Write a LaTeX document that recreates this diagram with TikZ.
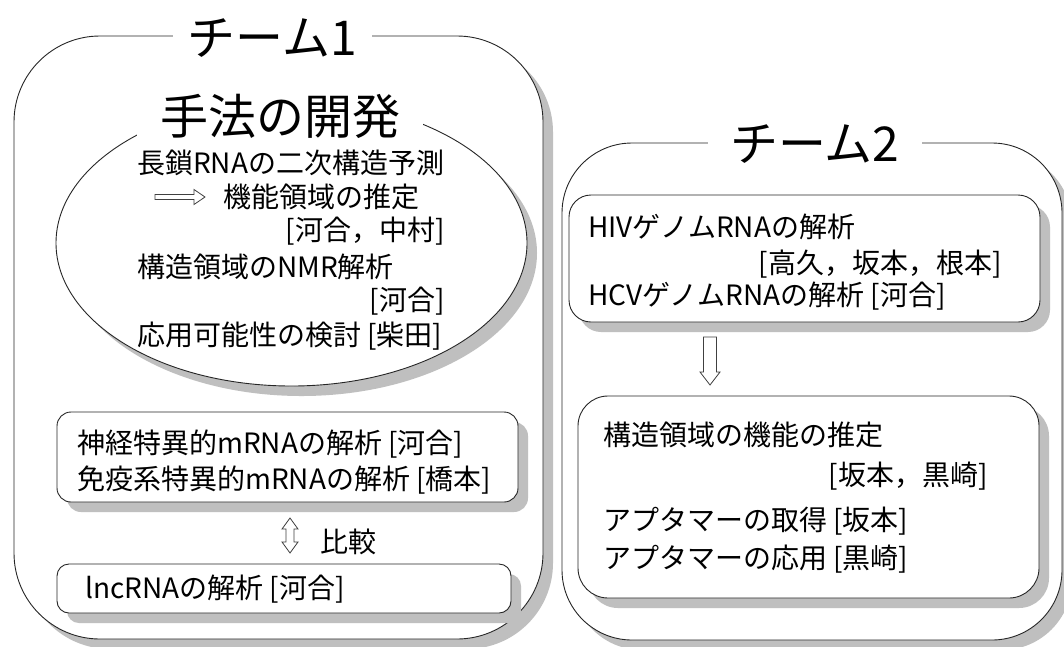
\documentclass[tikz,border=0pt]{standalone}
\usepackage{fontspec}
\setmainfont{Noto Sans CJK JP}
\usetikzlibrary{shadows,shapes.geometric}
\begin{document}
\begin{tikzpicture}[x=1pt,y=-1pt,
  shad/.style={drop shadow={shadow xshift=10pt,shadow yshift=-10pt,fill=black!25,opacity=1}},
  boxst/.style={draw=black!85, line width=0.9pt, fill=white, inner sep=0pt, outer sep=0pt, shad},
  txt/.style={font=\fontsize{28}{31}\selectfont, inner sep=0pt, text height=24.6pt, text depth=3.4pt},
  ttl/.style={font=\fontsize{48}{52}\selectfont, inner sep=0pt, fill=white, text height=42.2pt, text depth=5.8pt},
  hollow/.style={draw=black!75, line width=0.8pt, fill=white, line join=miter}]
\useasboundingbox (0,0) rectangle (1064,646);
% team frames
\node[boxst, rounded corners=86pt, minimum width=529pt, minimum height=603pt] (team1) at (278.5,337.5) {};
\node[boxst, rounded corners=70pt, minimum width=500pt, minimum height=497pt] (team2) at (812,391.5) {};
\node[ttl, minimum width=199pt] (t1title) at (272.5,37) {チーム1};
\node[ttl, minimum width=214pt] (t2title) at (815,143) {チーム2};
% ellipse
\node[ellipse, boxst, minimum width=471pt, minimum height=286pt] (ell) at (291.5,243) {};
\node[ttl, minimum width=286pt, minimum height=50pt] (method) at (280,116) {手法の開発};
\node[txt, anchor=west] (e1) at (137,163) {長鎖RNAの二次構造予測};
\node[txt, anchor=west] (e2) at (223,197) {機能領域の推定};
\node[txt, anchor=east] (e3) at (445,230) {[河合，中村]};
\node[txt, anchor=west] (e4) at (137,267) {構造領域のNMR解析};
\node[txt, anchor=east] (e5) at (445,300) {[河合]};
\node[txt, anchor=west] (e6) at (137,335) {応用可能性の検討 [柴田]};
\draw[hollow] (155,194.5) -- (194,194.5) -- (194,189.5) -- (205,197) -- (194,204.5) -- (194,199.5) -- (155,199.5) -- cycle;
% team1 boxes
\node[boxst, rounded corners=14pt, minimum width=461pt, minimum height=90pt] (box1) at (287.5,457) {};
\node[txt, anchor=west] (b1a) at (77,443) {神経特異的mRNAの解析 [河合]};
\node[txt, anchor=west] (b1b) at (77,479) {免疫系特異的mRNAの解析 [橋本]};
\node[boxst, rounded corners=12pt, minimum width=454pt, minimum height=49pt] (box2) at (284,588.5) {};
\node[txt, anchor=west] (b2a) at (85,588) {lncRNAの解析 [河合]};
\draw[hollow] (290,518) -- (298,529) -- (294,529) -- (294,542) -- (298,542) -- (290,553) -- (282,542) -- (286,542) -- (286,529) -- (282,529) -- cycle;
\node[txt, anchor=west] (cmp) at (320,542) {比較};
% team2 boxes
\node[boxst, rounded corners=22pt, minimum width=471pt, minimum height=127pt] (hiv) at (804.5,258.5) {};
\node[txt, anchor=west] (h1) at (588,227) {HIVゲノムRNAの解析};
\node[txt, anchor=east] (h2) at (1002,263) {[高久，坂本，根本]};
\node[txt, anchor=west] (h3) at (588,295) {HCVゲノムRNAの解析 [河合]};
\draw[hollow] (703.5,337) -- (716.5,337) -- (716.5,372) -- (720,372) -- (710,385) -- (700,372) -- (703.5,372) -- cycle;
\node[boxst, rounded corners=30pt, minimum width=461pt, minimum height=202pt] (func) at (808.5,497) {};
\node[txt, anchor=west] (f1) at (603,435) {構造領域の機能の推定};
\node[txt, anchor=east] (f2) at (988,475) {[坂本，黒崎]};
\node[txt, anchor=west] (f3) at (603,520) {アプタマーの取得 [坂本]};
\node[txt, anchor=west] (f4) at (603,558) {アプタマーの応用 [黒崎]};
\end{tikzpicture}
\end{document}
